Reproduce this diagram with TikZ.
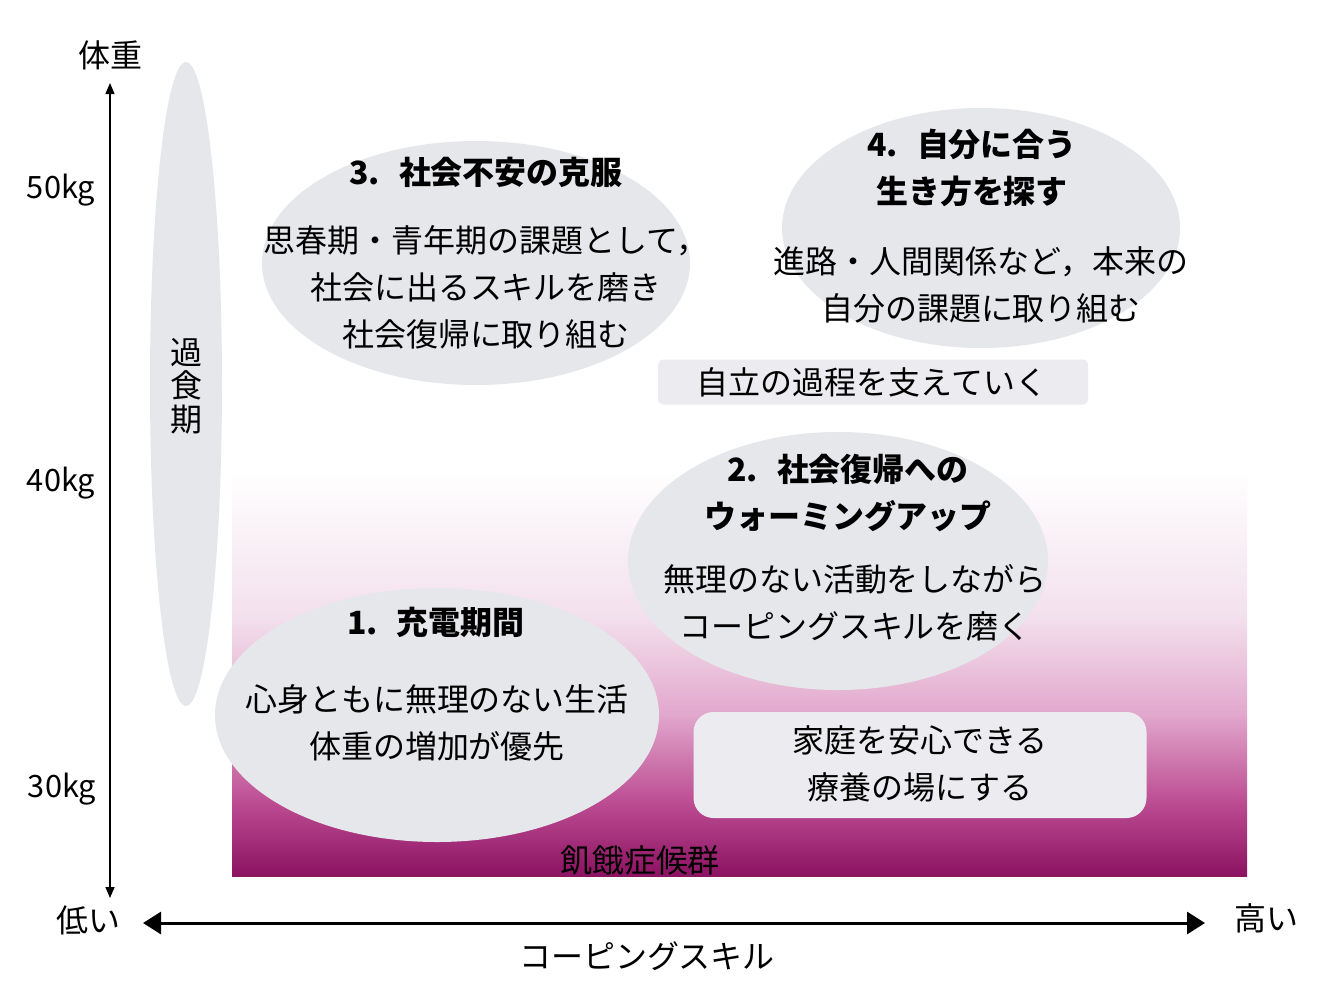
\documentclass[tikz,border=0pt]{standalone}
\usepackage{fontspec}
\setmainfont{Noto Sans CJK JP}
\usetikzlibrary{shapes.geometric,arrows.meta}
\definecolor{blobgray}{RGB}{230,231,235}
\definecolor{boxgray}{RGB}{236,236,240}
\definecolor{starvedark}{RGB}{140,18,98}
\definecolor{starvemid}{RGB}{188,76,146}
\definecolor{starvelight}{RGB}{226,168,205}
\definecolor{starvepale}{RGB}{243,224,237}
\pgfdeclareverticalshading{starve}{100bp}{color(0bp)=(starvedark); color(25bp)=(starvedark);
  color(34bp)=(starvemid); color(45bp)=(starvelight); color(57bp)=(starvepale);
  color(75bp)=(white); color(100bp)=(white)}
\tikzset{
  blob/.style={ellipse,fill=blobgray,draw=none,inner sep=0},   % the phase bubbles
  panel/.style={rectangle,fill=boxgray,draw=none,inner sep=0}, % the support boxes
  txt/.style={font=\fontsize{18.2pt}{26.7pt}\selectfont,align=center,inner sep=0},
  ttl/.style={txt,font=\fontsize{18.2pt}{26.7pt}\selectfont\bfseries},
  kg/.style={txt,font=\fontsize{17.5pt}{20pt}\selectfont},
}

\begin{document}
\begin{tikzpicture}[x=0.2mm,y=-0.2mm]
                    \useasboundingbox[fill=white] (0,0) rectangle (1324,984);
                    \shade[shading=starve] (232,470) rectangle (1247,876);
                    % axes
                    \coordinate (ytop) at (110,83);
                    \coordinate (ybot) at (110,898);
                    \coordinate (xleft) at (143,923);
                    \coordinate (xright) at (1205,923);
                    \draw[line width=0.3mm,{Triangle[length=2.2mm,width=1.8mm]}-{Triangle[length=2.2mm,width=1.8mm]}] (ytop) -- (ybot);
                    \draw[line width=0.6mm,{Triangle[length=3.6mm,width=4.4mm]}-{Triangle[length=3.6mm,width=4.4mm]}] (xleft) -- (xright);
                    \node[txt] (wlab) at (110,55) {体重};
                    \node[kg] (w50) at (61,190) {50kg};
                    \node[kg] (w40) at (61,483) {40kg};
                    \node[kg] (w30) at (62,789) {30kg};
                    \node[txt] (low) at (88,920) {低い};
                    \node[txt] (high) at (1266,918) {高い};
                    \node[txt] (clab) at (647,956) {コーピングスキル};
                    % bubbles
                    \node[blob,minimum width=14.4mm,minimum height=128.8mm] (eover) at (186,384) {};
                    \node[txt,font=\fontsize{18.2pt}{19pt}\selectfont] (over) at (186,386) {過\\食\\期};
                    \node[blob,minimum width=85.6mm,minimum height=48.8mm] (e3) at (476,263) {};
                    \node[blob,minimum width=79.6mm,minimum height=48mm] (e4) at (981,228) {};
                    \node[blob,minimum width=84mm,minimum height=51.6mm] (e2) at (838,561) {};
                    \node[blob,minimum width=88.8mm,minimum height=50.8mm] (e1) at (437,715) {};
                    \node[panel,rounded corners=1mm,minimum width=86mm,minimum height=9mm] (pself) at (873,382) {};
                    \node[panel,rounded corners=4mm,minimum width=90.6mm,minimum height=21.2mm] (phome) at (920,765) {};
                    % texts
                    \node[ttl] (t3) at (486,172) {3.\hspace{0.6em}社会不安の克服};
                    \node[txt] (b3) at (486,287) {思春期・青年期の課題として，\\社会に出るスキルを磨き\\社会復帰に取り組む};
                    \node[ttl] (t4) at (972,168) {4.\hspace{0.6em}自分に合う\\生き方を探す};
                    \node[txt] (b4) at (981,285) {進路・人間関係など，本来の\\自分の課題に取り組む};
                    \node[txt] (self) at (872,382) {自立の過程を支えていく};
                    \node[ttl] (t2) at (848,493) {2.\hspace{0.6em}社会復帰への\\ウォーミングアップ};
                    \node[txt] (b2) at (855,603) {無理のない活動をしながら\\コーピングスキルを磨く};
                    \node[ttl] (t1) at (436,622) {1.\hspace{0.6em}充電期間};
                    \node[txt] (b1) at (437,723) {心身ともに無理のない生活\\体重の増加が優先};
                    \node[txt] (home) at (920,764) {家庭を安心できる\\療養の場にする};
                    \node[txt] (starv) at (640,860) {飢餓症候群};
                \end{tikzpicture}
\end{document}
